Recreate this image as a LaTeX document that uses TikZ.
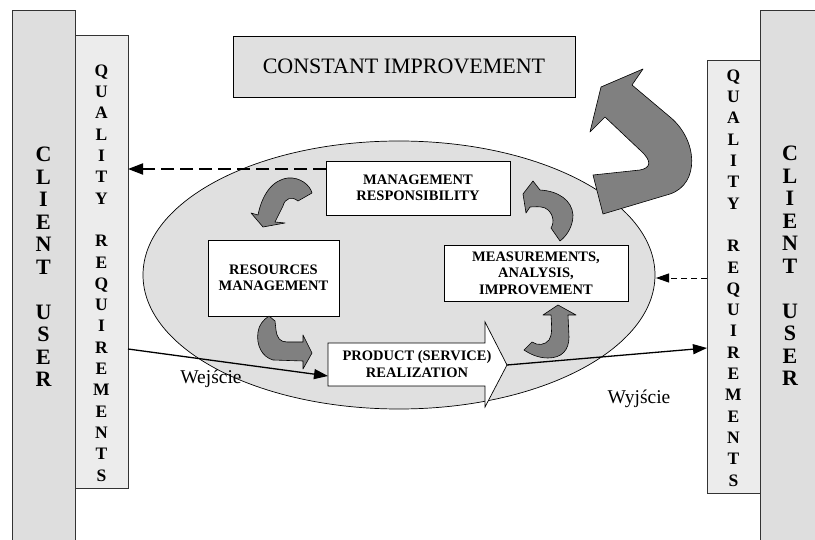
\documentclass[tikz,border=0pt]{standalone}
\usepackage{fontspec}
\setmainfont{Liberation Serif}
\usetikzlibrary{arrows.meta,shapes.geometric}
\definecolor{barout}{RGB}{222,222,222}
\definecolor{barin}{RGB}{236,236,236}
\definecolor{ellfill}{RGB}{224,224,224}
\definecolor{boxgray}{RGB}{224,224,224}
\definecolor{arrgray}{RGB}{128,128,128}
\begin{document}
\begin{tikzpicture}[x=1pt,y=-1pt,
  outerbar/.style={draw=black!80, fill=barout, line width=0.7pt, anchor=north west},
  innerbar/.style={draw=black!80, fill=barin, line width=0.7pt, anchor=north west},
  bigletters/.style={font=\bfseries\fontsize{22}{22.5}\selectfont, align=center, inner sep=0pt},
  smallletters/.style={font=\bfseries\fontsize{17.5}{21.3}\selectfont, align=center, inner sep=0pt},
  whitebox/.style={draw=black, fill=white, line width=0.7pt, align=center,
    font=\bfseries\fontsize{14.5}{16.5}\selectfont, inner sep=0pt},
  curvearrow/.style={draw=black, fill=arrgray, line width=0.6pt, line join=round},
  solidarrow/.style={line width=1.3pt, -{Triangle[length=14pt,width=10pt]}},
  thickdash/.style={line width=1.8pt, dash pattern=on 13pt off 6pt, -{Triangle[length=15pt,width=11pt]}},
  thindash/.style={line width=0.9pt, dash pattern=on 6pt off 4pt, -{Triangle[length=13pt,width=9pt]}},
  plainlabel/.style={font=\fontsize{19.5}{21}\selectfont, inner sep=0pt}]
\useasboundingbox (0,0) rectangle (815,540);
\fill[white] (0,0) rectangle (815,540);

% side bars
\node[outerbar, minimum width=63, minimum height=540] (lout) at (12,10) {};
\node[innerbar, minimum width=53, minimum height=453] (lin) at (75,35) {};
\node[outerbar, minimum width=65, minimum height=540] (rout) at (760,10) {};
\node[innerbar, minimum width=53, minimum height=433] (rin) at (707,60) {};

\node[bigletters] (lcu) at (43.5,267) {C\\L\\I\\E\\N\\T\\\mbox{}\\U\\S\\E\\R};
\node[smallletters] (lqr) at (101.5,273) {Q\\U\\A\\L\\I\\T\\Y\\\mbox{}\\R\\E\\Q\\U\\I\\R\\E\\M\\E\\N\\T\\S};
\node[smallletters] (rqr) at (733.5,278) {Q\\U\\A\\L\\I\\T\\Y\\\mbox{}\\R\\E\\Q\\U\\I\\R\\E\\M\\E\\N\\T\\S};
\node[bigletters] (rcu) at (790,266) {C\\L\\I\\E\\N\\T\\\mbox{}\\U\\S\\E\\R};

% constant improvement
\node[draw=black, fill=boxgray, line width=0.7pt, minimum width=342, minimum height=61,
  font=\fontsize{22}{24}\selectfont] (ci) at (404,66.5) {CONSTANT IMPROVEMENT};

% ellipse
\node[draw=black, fill=ellfill, ellipse, line width=0.7pt, minimum width=512, minimum height=268] (ell) at (399,275) {};

% big return arrow
\path[curvearrow] (593,175) -- (603,214) -- (670,194)
  .. controls (700,184) and (698,140) .. (670,117) -- (632,85) -- (643,69) -- (601,87)
  -- (590,132) -- (605,117) -- (641,151)
  .. controls (652,161) and (651,168) .. (640,170) -- cycle;

% boxes
\node[whitebox, minimum width=184, minimum height=54] (mr) at (418,188) {MANAGEMENT\\RESPONSIBILITY};
\node[whitebox, minimum width=131, minimum height=76] (rm) at (273.5,278) {RESOURCES\\MANAGEMENT};
\node[whitebox, minimum width=184, minimum height=56] (mai) at (536,273) {MEASUREMENTS,\\ANALYSIS,\\IMPROVEMENT};

% product arrow
\path[draw=black, fill=white, line width=0.7pt] (328,343) -- (485,343) -- (485,322) -- (507,365)
  -- (485,407) -- (485,386) -- (328,386) -- cycle;
\node[font=\bfseries\fontsize{14.5}{17}\selectfont, align=center, inner sep=0pt] (pr) at (417,364) {PRODUCT (SERVICE)\\REALIZATION};
\coordinate (prtip) at (507,365);
\coordinate (prin) at (328,376);

% small curved arrows
\path[curvearrow] (312,193) -- (298,201) .. controls (292,196) and (285,198) .. (283,206)
  -- (275,222) -- (285,223) -- (263,227) -- (251,213) -- (258,215)
  .. controls (262,195) and (272,180) .. (288,178) .. controls (300,177) and (310,185) .. (312,193) -- cycle;
\path[curvearrow] (269,316) -- (275,321) -- (276,330) .. controls (277,338) and (280,342) .. (287,342)
  -- (303,342) -- (303,335) -- (312,353) -- (303,369) -- (303,361) -- (273,360)
  .. controls (262,357) and (256,345) .. (258,332) .. controls (259,325) and (263,320) .. (269,316) -- cycle;
\path[curvearrow] (558,305) -- (576,315) -- (568,315) -- (569,337)
  .. controls (569,350) and (562,358) .. (548,358) .. controls (538,358) and (530,354) .. (524,350)
  -- (532,342) .. controls (538,346) and (545,345) .. (549,340) .. controls (552,335) and (552,330) .. (551,315)
  -- (543,315) -- cycle;
\path[curvearrow] (523,194) -- (533,181) -- (540,190) .. controls (558,191) and (572,200) .. (573,215)
  .. controls (573,225) and (568,235) .. (560,241) -- (551,228)
  .. controls (555,222) and (553,212) .. (545,208) .. controls (540,206) and (535,207) .. (530,207)
  -- (526,213) -- cycle;

% connectors
\coordinate (mrl) at (326,169);
\coordinate (lqrtop) at (128,169);
\draw[thickdash] (mrl) -- (lqrtop);
\coordinate (rqrd) at (707,278);
\coordinate (elle) at (656,278);
\draw[thindash] (rqrd) -- (elle);
\coordinate (lqrout) at (128,349);
\draw[solidarrow] (lqrout) -- (prin);
\coordinate (rqrin) at (707,348);
\draw[solidarrow] (prtip) -- (rqrin);

\node[plainlabel] (wej) at (211,379) {Wejście};
\node[plainlabel] (wyj) at (639,399) {Wyjście};
\end{tikzpicture}
\end{document}
